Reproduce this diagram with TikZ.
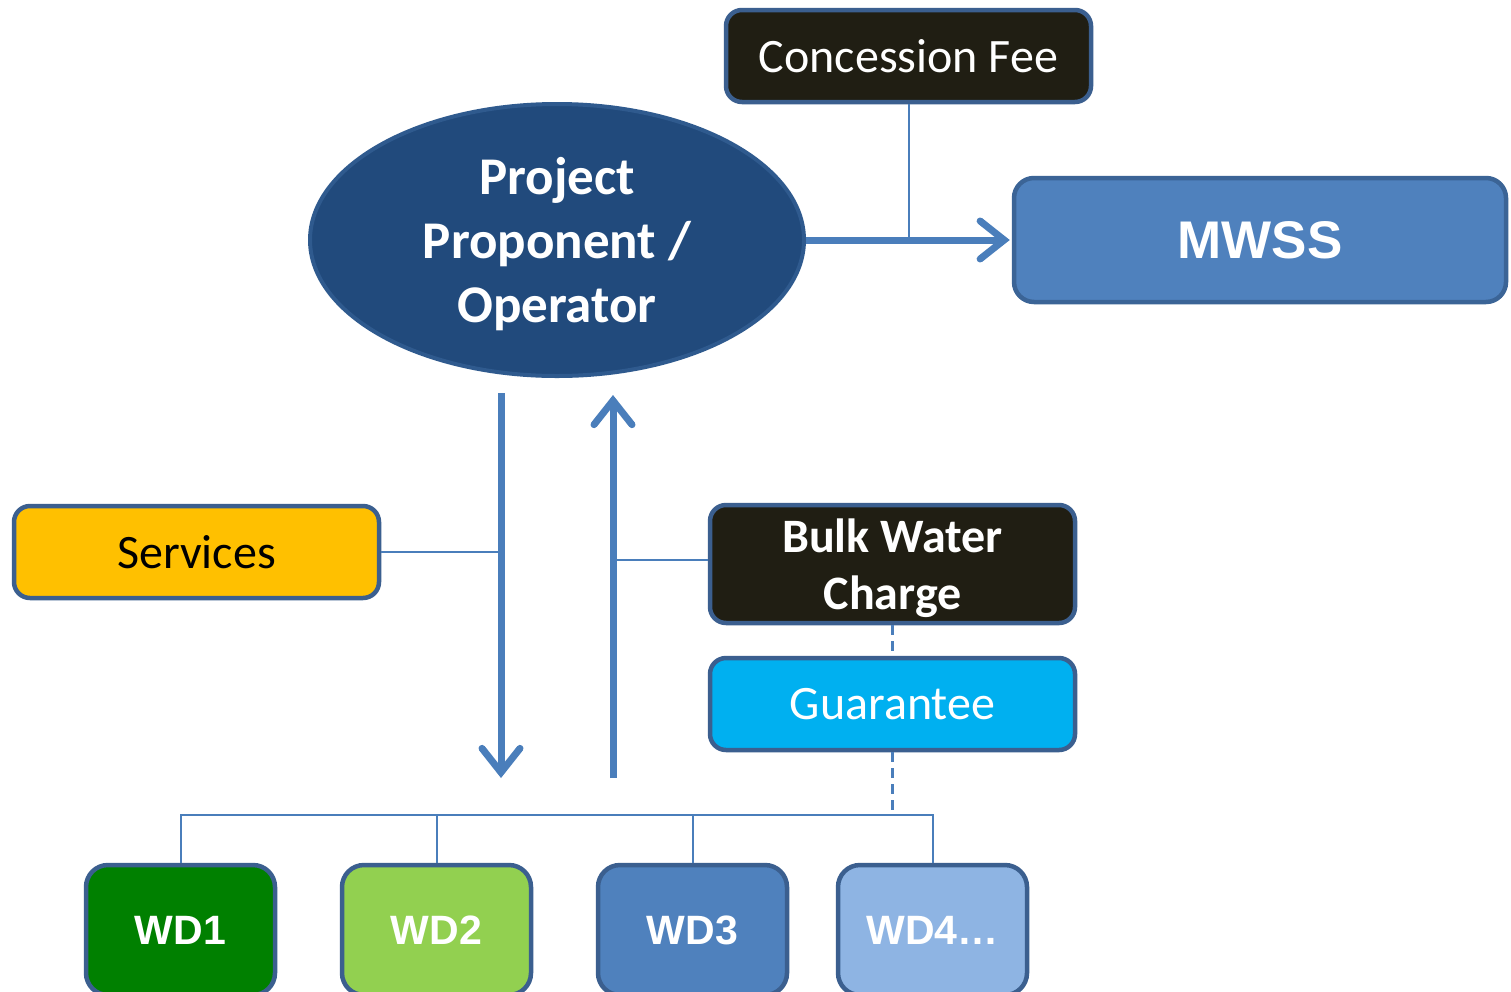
\documentclass[tikz,border=0pt]{standalone}
\usepackage{fontspec}
\setmainfont{Carlito}
\newfontfamily\arialfont{Liberation Sans}
\usetikzlibrary{shapes.geometric,arrows.meta}
\definecolor{bord}{HTML}{3B5F8F}
\definecolor{darkfill}{HTML}{201E13}
\definecolor{lineblue}{HTML}{4A7EBB}
\definecolor{ellfill}{HTML}{214A7C}
\definecolor{ellbord}{HTML}{2F5A8E}
\definecolor{mwssfill}{HTML}{4F81BD}
\definecolor{mwssbord}{HTML}{3B6496}
\definecolor{goldfill}{HTML}{FFC000}
\definecolor{cyanfill}{HTML}{00B0F0}
\definecolor{wdone}{HTML}{008000}
\definecolor{wdtwo}{HTML}{92D050}
\definecolor{wdthree}{HTML}{4F81BD}
\definecolor{wdfour}{HTML}{8EB4E3}
\tikzset{
  boxbase/.style={draw=bord, line width=4.5pt, rounded corners=16pt, inner sep=0pt, align=center},
  darkbox/.style={boxbase, fill=darkfill, text=white, minimum width=365pt},
  wdbox/.style={boxbase, rounded corners=22pt, minimum width=189pt, minimum height=130pt, text=white,
     font=\arialfont\bfseries\fontsize{41}{48}\selectfont},
  thinline/.style={draw=lineblue, line width=2pt},
  bigarrow/.style={draw=lineblue, line width=7pt, -{Straight Barb[length=24pt,width=38pt,line cap=round]}},
  dashline/.style={draw=lineblue, line width=3pt, dash pattern=on 10pt off 6pt}
}
\begin{document}
\begin{tikzpicture}[x=1pt,y=-1pt]
\clip (0,0) rectangle (1511,991);
\fill[white] (0,0) rectangle (1511,991);
% nodes
\node[darkbox, minimum height=92pt, font=\fontsize{48}{56}\selectfont] (conc) at (908.5,56) {Concession Fee};
\node[ellipse, draw=ellbord, line width=4pt, fill=ellfill, minimum width=494pt, minimum height=272pt,
      text=white, align=center, inner sep=-12pt, font=\bfseries\fontsize{53}{64}\selectfont] (ell) at (557,240)
      {\rule{0pt}{52pt}Project\\Proponent /\\Operator\rule[-16pt]{0pt}{0pt}};
\node[boxbase, draw=mwssbord, fill=mwssfill, rounded corners=20pt, minimum width=492pt, minimum height=124pt,
      text=white, font=\arialfont\bfseries\fontsize{53}{60}\selectfont] (mwss) at (1260,240) {MWSS};
\node[boxbase, fill=goldfill, minimum width=365pt, minimum height=92pt,
      font=\fontsize{48}{56}\selectfont] (serv) at (196.5,552) {Services};
\node[darkbox, minimum height=116pt, font=\bfseries\fontsize{48}{57}\selectfont] (bulk) at (892.5,564)
      {\rule{0pt}{47pt}Bulk Water\\Charge\rule[-14pt]{0pt}{0pt}};
\node[boxbase, fill=cyanfill, minimum width=365pt, minimum height=92pt, text=white,
      font=\fontsize{48}{56}\selectfont] (guar) at (892.5,704) {Guarantee};
\node[wdbox, fill=wdone] (w1) at (180.5,930) {WD1};
\node[wdbox, fill=wdtwo] (w2) at (436.5,930) {WD2};
\node[wdbox, fill=wdthree] (w3) at (692.5,930) {WD3};
\node[wdbox, fill=wdfour] (w4) at (932.5,930) {WD4\ldots};
% free ends of the vertical arrows
\coordinate (dntop) at (501,393);
\coordinate (dnend) at (501,778);
\coordinate (upstart) at (613,778);
\coordinate (uptop) at (613,395);
\coordinate (busy) at (0,815);
\coordinate (bulkw) at ([yshift=4pt]bulk.west);
% connectors
\draw[thinline] (conc.south) -- (conc.south |- ell.east);
\draw[bigarrow] (ell.east) -- ([xshift=-2pt]mwss.west);
\draw[bigarrow] (dntop) -- (dnend);
\draw[bigarrow] (upstart) -- (uptop);
\draw[thinline] (serv.east) -- (dnend |- serv.east);
\draw[thinline] (bulkw) -- (upstart |- bulkw);
\draw[dashline] (bulk.south) -- (guar.north);
\draw[dashline] (guar.south) -- (guar.south |- busy);
\draw[thinline] (w1.north) -- (w1.north |- busy) -| (w4.north);
\draw[thinline] (w2.north) -- (w2.north |- busy);
\draw[thinline] (w3.north) -- (w3.north |- busy);
\end{tikzpicture}
\end{document}
